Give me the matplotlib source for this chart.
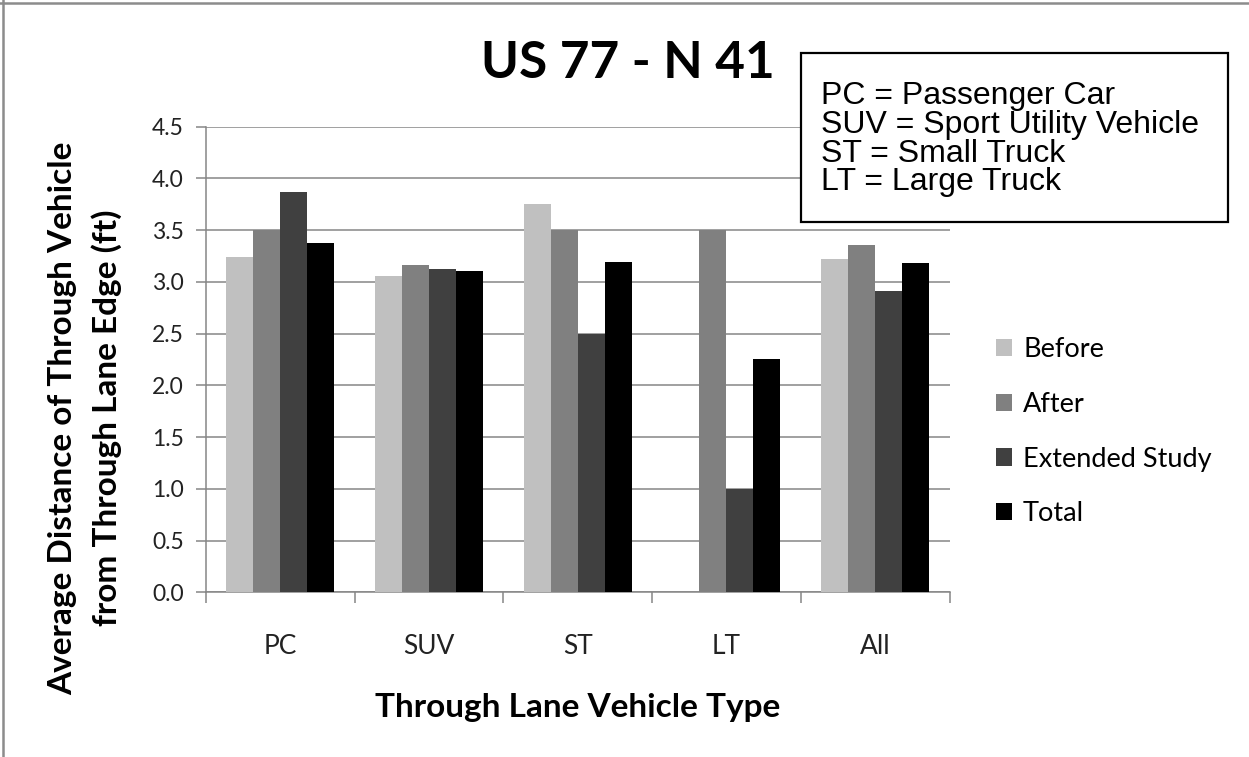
import numpy as np
from matplotlib import pyplot as plt
from matplotlib.lines import Line2D
from matplotlib.patches import Rectangle

# Average distance (ft) by through-lane vehicle type
categories = ['PC', 'SUV', 'ST', 'LT', 'All']
before = [3.24, 3.06, 3.75, 0.0, 3.22]
after = [3.50, 3.16, 3.50, 3.50, 3.36]
extended = [3.87, 3.12, 2.50, 1.00, 2.91]
total = [3.375, 3.10, 3.19, 2.25, 3.18]

series_names = ['Before', 'After', 'Extended Study', 'Total']
series_colors = ['#C0C0C0', '#808080', '#404040', '#000000']

abbrev_lines = [
    'PC = Passenger Car',
    'SUV = Sport Utility Vehicle',
    'ST = Small Truck',
    'LT = Large Truck',
]

W, H = 1249, 757
axis_gray = '#868686'


def fx(px):
    return px / W


def fy(py):
    return 1 - py / H


fig = plt.figure(figsize=(W / 100, H / 100), dpi=100)
ax = fig.add_axes([fx(206), fy(592.3), fx(949.5) - fx(206), fy(126.5) - fy(592.3)])

x = np.arange(len(categories))
bar_w = 0.1816
for j, (vals, name, col) in enumerate(zip([before, after, extended, total], series_names, series_colors)):
    ax.bar(x + (j - 1.5) * bar_w, vals, width=bar_w, color=col, label=name, zorder=3)

ax.set_xlim(-0.5, len(categories) - 0.5)
ax.set_ylim(0, 4.5)
ax.set_yticks(np.arange(0, 4.51, 0.5))
ax.set_yticklabels([f'{v:.1f}' for v in np.arange(0, 4.51, 0.5)])
ax.set_xticks(x)
ax.set_xticklabels(categories)
ax.set_xticks(np.arange(-0.5, len(categories)), minor=True)

for side in ['top', 'right']:
    ax.spines[side].set_visible(False)
for side in ['left', 'bottom']:
    ax.spines[side].set_color(axis_gray)
    ax.spines[side].set_linewidth(1.1)

ax.yaxis.grid(True, color=axis_gray, linewidth=1.1, zorder=0)
ax.set_axisbelow(True)
ax.tick_params(axis='y', length=7, width=1.1, color=axis_gray, pad=9,
               labelsize=16.5, labelcolor='#222222', labelfontfamily='Lato')
ax.tick_params(axis='x', which='major', length=0, pad=30,
               labelsize=19, labelcolor='#222222', labelfontfamily='Lato')
ax.tick_params(axis='x', which='minor', length=8, width=1.1, color=axis_gray)

# titles and axis labels
fig.text(fx(628), fy(78), 'US 77 - N 41', ha='center', va='baseline',
         fontsize=37, fontweight='bold', family='Lato')
fig.text(fx(578), fy(717), 'Through Lane Vehicle Type', ha='center', va='baseline',
         fontsize=24, fontweight='bold', family='Lato')
fig.text(fx(72), fy(418), 'Average Distance of Through Vehicle', rotation=90,
         rotation_mode='anchor', ha='center', va='baseline',
         fontsize=24, fontweight='bold', family='Lato')
fig.text(fx(117), fy(418), 'from Through Lane Edge (ft)', rotation=90,
         rotation_mode='anchor', ha='center', va='baseline',
         fontsize=24, fontweight='bold', family='Lato')

# legend
fig.legend(loc='upper left', bbox_to_anchor=(fx(996), fy(337)), frameon=False,
           prop={'family': 'Lato', 'size': 19.5}, handlelength=0.6, handleheight=0.6,
           handletextpad=0.4, labelspacing=1.1, borderpad=0, borderaxespad=0)

# abbreviation box
fig.add_artist(Rectangle((fx(800.7), fy(221.7)), fx(1227.7) - fx(800.7), fy(53.3) - fy(221.7),
                         transform=fig.transFigure, facecolor='white', edgecolor='black',
                         linewidth=1.6, zorder=5))
for i, line in enumerate(abbrev_lines):
    fig.text(fx(820.7), fy(104 + i * 28.75), line, ha='left', va='baseline',
             fontsize=23, family='Liberation Sans', zorder=6)

# outer frame (top and left edges only)
fig.add_artist(Line2D([fx(2.7), fx(2.7)], [0, 1], transform=fig.transFigure,
                      color='#8c8c8c', linewidth=1.8))
fig.add_artist(Line2D([0, 1], [fy(2.7), fy(2.7)], transform=fig.transFigure,
                      color='#8c8c8c', linewidth=1.8))

plt.savefig('out.png', dpi=100)
